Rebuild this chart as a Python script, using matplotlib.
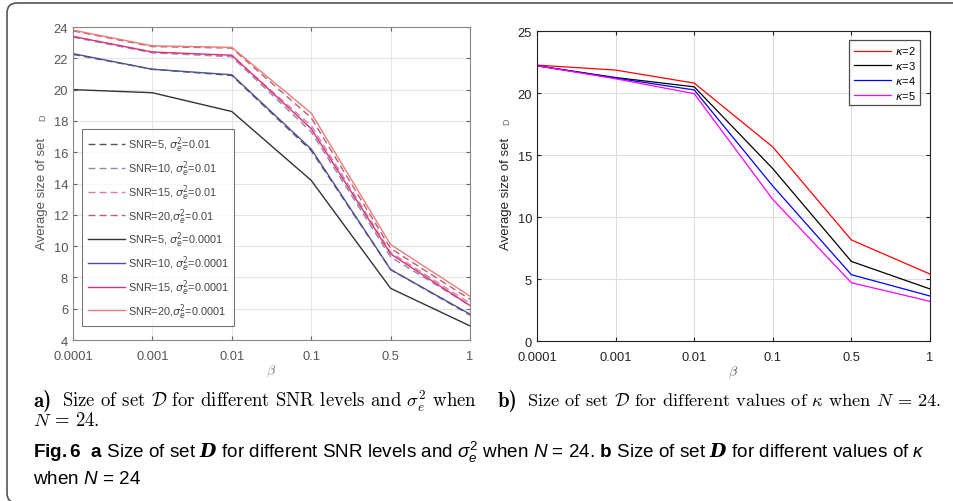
import numpy as np
import matplotlib
matplotlib.use("Agg")
import matplotlib.pyplot as plt
from matplotlib.patches import FancyBboxPatch

plt.rcParams['font.family'] = ['Liberation Sans', 'DejaVu Sans']
plt.rcParams['mathtext.fontset'] = 'custom'
plt.rcParams['mathtext.rm'] = 'Liberation Sans'
plt.rcParams['mathtext.it'] = 'Liberation Sans:italic'
plt.rcParams['mathtext.bf'] = 'Liberation Sans:bold'
plt.rcParams['mathtext.cal'] = 'DejaVu Serif:italic:bold'

# shared x categories
beta_labels = ['0.0001', '0.001', '0.01', '0.1', '0.5', '1']

# (a) SNR / sigma_e^2
snr_labels = ['SNR=5, $\\sigma_e^2$=0.01', 'SNR=10, $\\sigma_e^2$=0.01',
              'SNR=15, $\\sigma_e^2$=0.01', 'SNR=20,$\\sigma_e^2$=0.01',
              'SNR=5, $\\sigma_e^2$=0.0001', 'SNR=10, $\\sigma_e^2$=0.0001',
              'SNR=15, $\\sigma_e^2$=0.0001', 'SNR=20,$\\sigma_e^2$=0.0001']
snr5_d = [22.25, 21.30, 20.90, 16.10, 8.50, 5.60]
snr10_d = [23.35, 22.35, 22.10, 17.30, 9.30, 6.20]
snr15_d = [23.40, 22.40, 22.15, 17.70, 9.60, 6.35]
snr20_d = [23.75, 22.75, 22.65, 18.20, 9.85, 6.60]
snr5_s = [20.00, 19.80, 18.60, 14.20, 7.30, 4.90]
snr10_s = [22.30, 21.30, 20.95, 16.20, 8.50, 5.65]
snr15_s = [23.40, 22.40, 22.20, 17.50, 9.50, 6.20]
snr20_s = [23.80, 22.80, 22.70, 18.50, 10.10, 6.80]
snr_colors = ['#555555', '#8a8aa8', '#e27aa0', '#b8606e',
              '#333333', '#50509a', '#e0307a', '#f07a7a']

# (b) kappa
kappa_labels = ['$\\kappa$=2', '$\\kappa$=3', '$\\kappa$=4', '$\\kappa$=5']
kappa2 = [22.25, 21.85, 20.80, 15.65, 8.15, 5.40]
kappa3 = [22.20, 21.25, 20.50, 13.90, 6.42, 4.20]
kappa4 = [22.20, 21.20, 20.25, 12.50, 5.35, 3.63]
kappa5 = [22.20, 21.15, 19.95, 11.42, 4.70, 3.20]
kappa_colors = ['#ff0000', '#000000', '#0000ff', '#ff00ff']

fig = plt.figure(figsize=(9.54, 5.02), dpi=100)
fig.patches.append(FancyBboxPatch((7, -2), 965, 500, boxstyle='round,pad=0,rounding_size=10',
                                  transform=None, fill=False, ec='#555555', lw=1.2))

x = np.arange(len(beta_labels))

# ---- left panel
axl = fig.add_axes([0.0765, 0.3207, 0.4162, 0.6235])
series_a = [snr5_d, snr10_d, snr15_d, snr20_d, snr5_s, snr10_s, snr15_s, snr20_s]
for i, ys in enumerate(series_a):
    ls = (0, (5, 3)) if i < 4 else '-'
    axl.plot(x, ys, ls=ls, color=snr_colors[i], lw=1.0, label=snr_labels[i])
axl.set_xlim(0, 5)
axl.set_ylim(4, 24)
axl.set_yticks(np.arange(4, 25, 2))
axl.set_xticks(x)
axl.set_xticklabels(beta_labels)
axl.grid(True, color='#e4e4e4', lw=0.8)
axl.tick_params(direction='in', top=True, right=True, labelsize=9.3, colors='#666666',
                length=3, labelcolor='#555555')
axl.tick_params(axis='x', pad=7)
for s in axl.spines.values():
    s.set_color('#888888')
axl.set_xlabel('$\\beta$', color='#777777', fontsize=10, math_fontfamily='cm', labelpad=1)
axl.set_ylabel('Average size of set', fontsize=9.5, color='#555555')
axl.yaxis.set_label_coords(-0.063, 0.47)
axl.text(-0.076, 0.712, 'D', transform=axl.transAxes, rotation=90, fontsize=6.5,
         color='#666666', ha='center', va='center')
leg = axl.legend(loc='lower left', bbox_to_anchor=(0.023, 0.045), borderaxespad=0,
                 fontsize=7.8, handlelength=3.5, labelspacing=0.38, borderpad=0.5,
                 handletextpad=0.2, fancybox=False, edgecolor='#555555', labelcolor='#444444')
leg.get_frame().set_linewidth(0.8)
for t in leg.get_texts():
    t.set_math_fontfamily('dejavusans')

# ---- right panel
axr = fig.add_axes([0.5629, 0.3187, 0.4119, 0.6175])
for ys, c, lab in zip([kappa2, kappa3, kappa4, kappa5], kappa_colors, kappa_labels):
    axr.plot(x, ys, color=c, lw=0.9, label=lab)
axr.set_xlim(0, 5)
axr.set_ylim(0, 25)
axr.set_yticks(np.arange(0, 26, 5))
axr.set_xticks(x)
axr.set_xticklabels(beta_labels)
axr.grid(True, color='#dddddd', lw=0.8)
axr.tick_params(direction='in', top=True, right=True, labelsize=9.3, length=3,
                colors='#222222')
axr.tick_params(axis='x', pad=7)
for s in axr.spines.values():
    s.set_color('#222222')
axr.set_xlabel('$\\beta$', color='#555555', fontsize=10, math_fontfamily='cm', labelpad=1)
axr.set_ylabel('Average size of set', fontsize=9.5, color='#222222')
axr.yaxis.set_label_coords(-0.064, 0.479)
axr.text(-0.077, 0.71, 'D', transform=axr.transAxes, rotation=90, fontsize=6.5,
         color='#666666', ha='center', va='center')
legr = axr.legend(loc='upper right', bbox_to_anchor=(0.9746, 0.971), borderaxespad=0,
                  fontsize=8, handlelength=3.4, labelspacing=0.25, borderpad=0.4,
                  handletextpad=0.3, fancybox=False, edgecolor='#222222')
legr.get_frame().set_linewidth(0.9)
for t in legr.get_texts():
    t.set_math_fontfamily('dejavusans')

# ---- sub captions (LaTeX look)
fig.text(33 / 954, 1 - 401 / 502, 'a)', fontfamily='cmb10', fontsize=15, va='center')
fig.text(62 / 954, 1 - 401 / 502,
         'Size of set $\\mathcal{D}$ for different SNR levels and $\\sigma_e^2$ when',
         fontfamily='cmr10', fontsize=13.5, va='center', math_fontfamily='cm')
fig.text(33 / 954, 1 - 421 / 502, '$N$ = 24.', fontfamily='cmr10', fontsize=13.5,
         va='center', math_fontfamily='cm')
fig.text(498 / 954, 1 - 401 / 502, 'b)', fontfamily='cmb10', fontsize=15, va='center')
fig.text(527 / 954, 1 - 401 / 502,
         'Size of set $\\mathcal{D}$ for different values of $\\kappa$ when $N$ = 24.',
         fontfamily='cmr10', fontsize=13.2, va='center', math_fontfamily='cm')

# ---- figure caption
fig.text(33 / 954, 1 - 452 / 502,
         '$\\mathbf{Fig.6}$  $\\mathbf{a}$ Size of set $\\mathcal{D}$ for different SNR levels and '
         '$\\sigma_e^2$ when $N$ = 24. $\\mathbf{b}$ Size of set $\\mathcal{D}$ for different values of $\\kappa$',
         fontfamily=['Liberation Sans', 'DejaVu Sans'], fontsize=13.6, va='center',
         math_fontfamily='custom')
fig.text(33 / 954, 1 - 480 / 502, 'when $N$ = 24',
         fontfamily=['Liberation Sans', 'DejaVu Sans'], fontsize=13.6, va='center',
         math_fontfamily='custom')

fig.savefig('out.png', dpi=100)
